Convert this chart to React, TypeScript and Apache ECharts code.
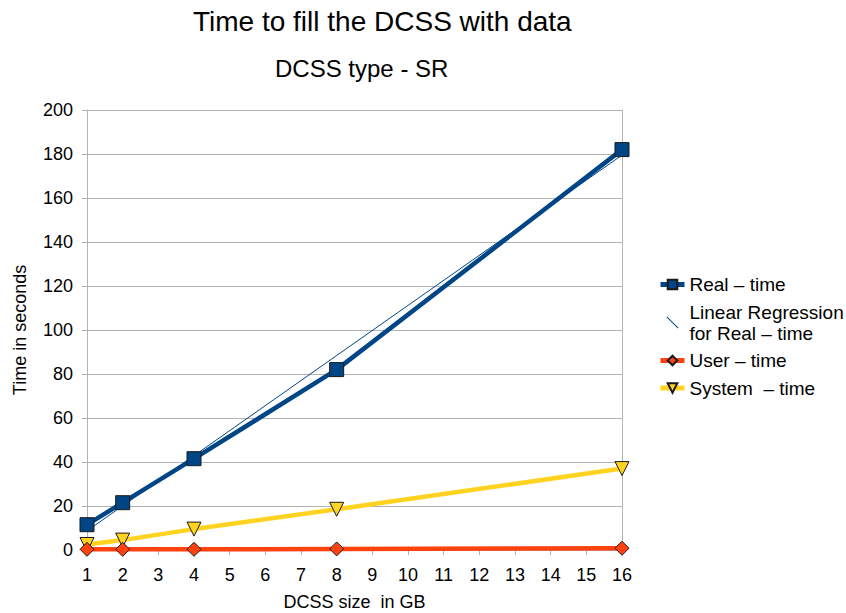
import React, { useEffect, useRef } from "react";
import * as echarts from "echarts";

const sizes = [1, 2, 4, 8, 16];
const realTime = [11.5, 21.5, 41.5, 82, 182];
const userTime = [0.3, 0.3, 0.3, 0.5, 0.8];
const systemTime = [2.5, 4.5, 9.5, 18.5, 37];
const regressionX = [1, 16];
const regressionY = [8.7, 179.5];
const yTicks = { min: 0, max: 200, interval: 20 };
const xTicks = { min: 1, max: 16, interval: 1 };

const FONT = "'Liberation Sans', Arial, sans-serif";

export default function App() {
  const ref = useRef<HTMLDivElement>(null);
  useEffect(() => {
    const chart = echarts.init(ref.current!, null, { renderer: "svg" });
    const pair = (xs: number[], ys: number[]) => xs.map((x, i) => [x, ys[i]]);
    chart.setOption({
      animation: false,
      backgroundColor: "#ffffff",
      textStyle: { fontFamily: FONT, color: "#000" },
      title: [
        {
          text: "Time to fill the DCSS with data",
          left: 188,
          top: 2,
          textStyle: { fontFamily: FONT, fontSize: 28, fontWeight: "normal", color: "#000" },
        },
        {
          text: "DCSS type - SR",
          left: 270,
          top: 51,
          textStyle: { fontFamily: FONT, fontSize: 24, fontWeight: "normal", color: "#000" },
        },
      ],
      legend: {
        orient: "vertical",
        left: 653,
        top: 269,
        itemWidth: 24,
        itemHeight: 12,
        itemGap: 6.5,
        textStyle: { fontFamily: FONT, fontSize: 19, color: "#000", lineHeight: 21 },
        data: [
          { name: "Real – time", lineStyle: { width: 5 } },
          {
            name: "Linear Regression\nfor Real – time",
            icon: "path://M0 0 L10 10 L10.6 9.4 L0.6 -0.6 Z",
            itemStyle: { color: "#004586" },
          },
          { name: "User – time", lineStyle: { width: 5 } },
          { name: "System  – time", lineStyle: { width: 5 } },
        ],
      },
      grid: {
        left: 87,
        right: 224,
        top: 110,
        bottom: 63,
        containLabel: false,
        outerBoundsMode: "none",
      },
      xAxis: {
        type: "value",
        min: xTicks.min,
        max: xTicks.max,
        interval: xTicks.interval,
        name: "DCSS size  in GB",
        nameLocation: "middle",
        nameGap: 43,
        nameTextStyle: { fontFamily: FONT, fontSize: 18, color: "#000" },
        axisLine: { show: true, lineStyle: { color: "#b3b3b3", width: 1 } },
        axisTick: { show: true, length: 5, lineStyle: { color: "#b3b3b3" } },
        axisLabel: { fontFamily: FONT, fontSize: 18, color: "#000", margin: 16 },
        splitLine: { show: false },
      },
      yAxis: [
        {
          type: "value",
          min: yTicks.min,
          max: yTicks.max,
          interval: yTicks.interval,
          name: "Time in seconds",
          nameLocation: "middle",
          nameGap: 58,
          nameTextStyle: { fontFamily: FONT, fontSize: 18, color: "#000" },
          axisLine: { show: true, lineStyle: { color: "#b3b3b3", width: 1 } },
          axisTick: { show: true, length: 5, lineStyle: { color: "#b3b3b3" } },
          axisLabel: { fontFamily: FONT, fontSize: 18, color: "#000", margin: 14 },
          splitLine: { show: true, lineStyle: { color: "#b3b3b3", width: 1 } },
        },
        {
          type: "value",
          position: "right",
          min: yTicks.min,
          max: yTicks.max,
          interval: yTicks.interval,
          axisLine: { show: true, lineStyle: { color: "#b3b3b3", width: 1 } },
          axisTick: { show: false },
          axisLabel: { show: false },
          splitLine: { show: false },
        },
      ],
      series: [
        {
          name: "Linear Regression\nfor Real – time",
          type: "line",
          data: pair(regressionX, regressionY),
          symbol: "none",
          lineStyle: { color: "#004586", width: 1 },
          itemStyle: { color: "#004586" },
          z: 3,
        },
        {
          name: "Real – time",
          type: "line",
          data: pair(sizes, realTime),
          symbol: "rect",
          symbolSize: 14,
          lineStyle: { color: "#004586", width: 4.5 },
          itemStyle: { color: "#004586", borderColor: "#1a1a1a", borderWidth: 1 },
          z: 4,
        },
        {
          name: "User – time",
          type: "line",
          data: pair(sizes, userTime),
          symbol: "diamond",
          symbolSize: 14,
          lineStyle: { color: "#ff420e", width: 4.5 },
          itemStyle: { color: "#ff420e", borderColor: "#1a1a1a", borderWidth: 1 },
          z: 5,
        },
        {
          name: "System  – time",
          type: "line",
          data: pair(sizes, systemTime),
          symbol: "triangle",
          symbolRotate: 180,
          symbolSize: 14,
          lineStyle: { color: "#ffd320", width: 4.5 },
          itemStyle: { color: "#ffd320", borderColor: "#1a1a1a", borderWidth: 1 },
          z: 4,
        },
      ],
    });
    return () => chart.dispose();
  }, []);
  return <div ref={ref} style={{ width: 846, height: 613, position: "absolute", left: 0, top: 0 }} />;
}
